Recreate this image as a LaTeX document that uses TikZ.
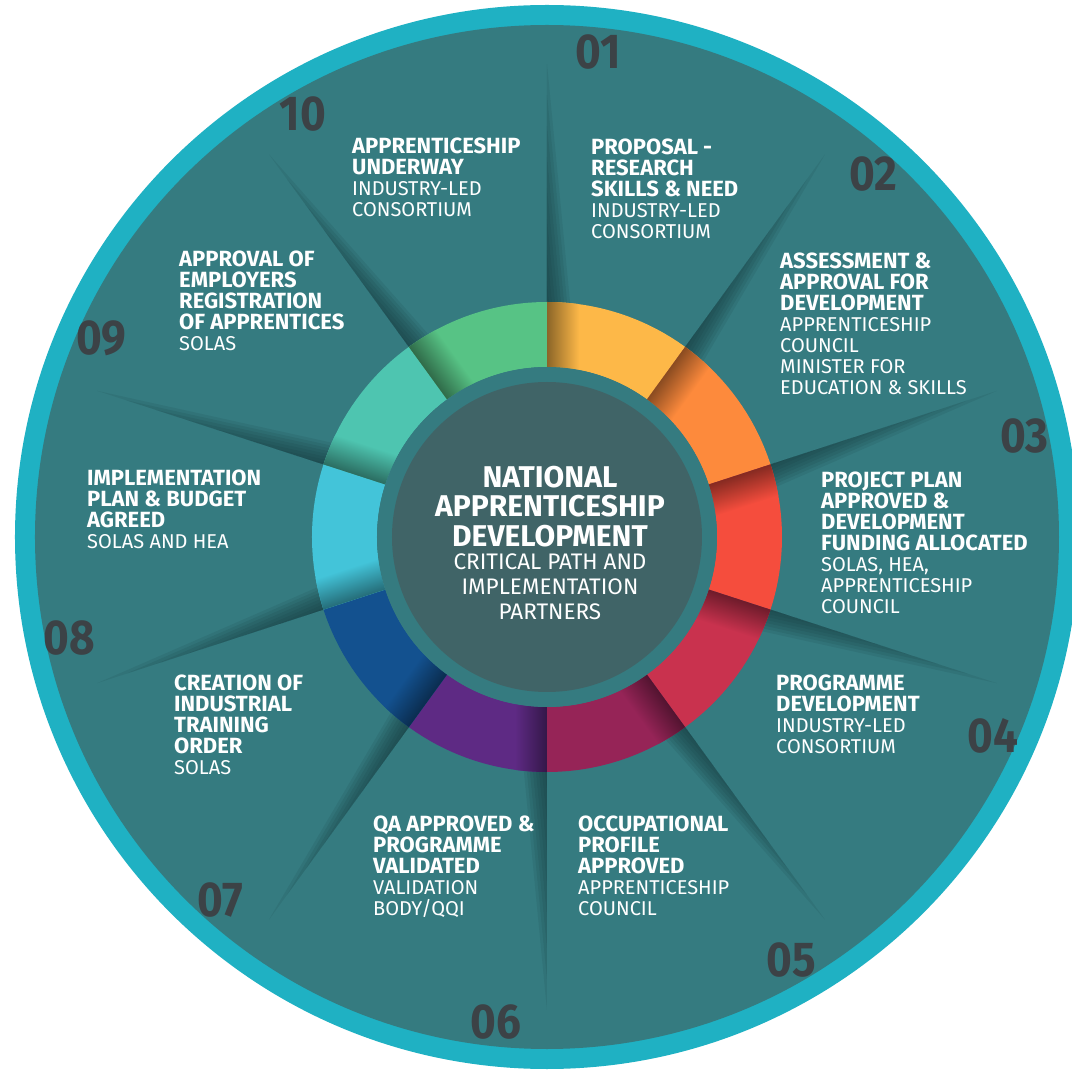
\documentclass[tikz,border=0pt]{standalone}
\usepackage{fontspec}
\setmainfont{Fira Sans}
\usepackage{graphicx}
\usepackage{tikz}
\usetikzlibrary{positioning}
\definecolor{rimcyan}{RGB}{31,177,195}
\definecolor{wheelteal}{RGB}{53,123,128}
\definecolor{hubslate}{RGB}{64,100,103}
\definecolor{numgrey}{RGB}{60,66,70}
\definecolor{shadowteal}{RGB}{20,52,56}
\definecolor{segyellow}{RGB}{253,184,72}
\definecolor{segorange}{RGB}{253,138,60}
\definecolor{segred}{RGB}{245,77,61}
\definecolor{segcrimson}{RGB}{201,50,78}
\definecolor{segwine}{RGB}{150,36,87}
\definecolor{segpurple}{RGB}{94,42,132}
\definecolor{segnavy}{RGB}{19,81,143}
\definecolor{segsky}{RGB}{67,196,217}
\definecolor{segturq}{RGB}{78,197,176}
\definecolor{seggreen}{RGB}{87,195,133}
\newcommand{\stagehead}[1]{{\fontsize{22}{21}\selectfont\bfseries #1}}

\tikzset{
  stagetext/.style={anchor=north west,align=left,inner sep=0pt,text=white,
    font=\fontsize{20}{21}\selectfont},
  stagenum/.style={inner sep=0pt,text=numgrey,font=\fontsize{49}{49}\selectfont\bfseries},
}

\begin{document}
\begin{tikzpicture}[x=1pt,y=1pt]
        \useasboundingbox (-547,-534) rectangle (525,537);
        \fill[white] (-547,-534) rectangle (525,537);
        % Rim and wheel
        \fill[rimcyan] (0,0) circle[radius=532];
        \fill[wheelteal] (0,0) circle[radius=512];
        % Fold shadows along the spokes
        \foreach \k in {0,...,9}{
          \begin{scope}[rotate=90-36*\k]
            \foreach \s in {1,...,8}{
              \fill[shadowteal,opacity=0.11] (225,0) -- ({225+31*\s},0) -- (225,{-3*\s}) -- cycle;
            }
          \end{scope}
        }
        % Coloured ring
        \foreach \k/\col in {0/segyellow,1/segorange,2/segred,3/segcrimson,4/segwine,
                             5/segpurple,6/segnavy,7/segsky,8/segturq,9/seggreen}{
          \pgfmathsetmacro{\ang}{90-36*\k}
          \begin{scope}[transform canvas={rotate=\ang}]
            \fill[\col] (0:170) -- (0:235) arc[start angle=0,end angle=-36,radius=235]
              -- (-36:170) arc[start angle=-36,end angle=0,radius=170] -- cycle;
            \clip (0:170) -- (0:235) arc[start angle=0,end angle=-36,radius=235]
              -- (-36:170) arc[start angle=-36,end angle=0,radius=170] -- cycle;
            \shade[top color=\col!55!black,bottom color=\col] (160,0) rectangle (240,-32);
          \end{scope}
        }
        % Hub
        \fill[wheelteal] (0,0) circle[radius=170];
        \fill[hubslate] (0,0) circle[radius=155];
        \node[inner sep=0pt,anchor=north,align=center,text=white,
          font=\fontsize{30}{29.5}\selectfont\bfseries] (hubhead) at (3,71)
          {NATIONAL\\APPRENTICESHIP\\DEVELOPMENT};
        \node[inner sep=0pt,below=6pt of hubhead,align=center,text=white,
          font=\fontsize{22.5}{25}\selectfont] (hubsub)
          {CRITICAL PATH AND\\IMPLEMENTATION\\PARTNERS};
        % Step numbers
        \foreach \k/\lbl in {1/01,2/02,3/03,4/04,5/05,6/06,7/07,8/08,9/09,10/10}{
          \node[stagenum] (num\lbl) at ({84-36*(\k-1)}:488) {\scalebox{0.9}[1]{\lbl}};
        }
        % Step texts
        \node[stagetext] (txt01) at (44,398)
          {\stagehead{PROPOSAL -}\\\stagehead{RESEARCH}\\\stagehead{SKILLS \& NEED}\\INDUSTRY-LED\\CONSORTIUM};
        \node[stagetext] (txt02) at (233,284)
          {\stagehead{ASSESSMENT \&}\\\stagehead{APPROVAL FOR}\\\stagehead{DEVELOPMENT}\\APPRENTICESHIP\\COUNCIL\\MINISTER FOR\\EDUCATION \& SKILLS};
        \node[stagetext] (txt03) at (274,65)
          {\stagehead{PROJECT PLAN}\\\stagehead{APPROVED \&}\\\stagehead{DEVELOPMENT}\\\stagehead{FUNDING ALLOCATED}\\SOLAS, HEA,\\APPRENTICESHIP\\COUNCIL};
        \node[stagetext] (txt04) at (229,-138)
          {\stagehead{PROGRAMME}\\\stagehead{DEVELOPMENT}\\INDUSTRY-LED\\CONSORTIUM};
        \node[stagetext] (txt05) at (31,-279)
          {\stagehead{OCCUPATIONAL}\\\stagehead{PROFILE}\\\stagehead{APPROVED}\\APPRENTICESHIP\\COUNCIL};
        \node[stagetext] (txt06) at (-174,-279)
          {\stagehead{QA APPROVED \&}\\\stagehead{PROGRAMME}\\\stagehead{VALIDATED}\\VALIDATION\\BODY/QQI};
        \node[stagetext] (txt07) at (-373,-138)
          {\stagehead{CREATION OF}\\\stagehead{INDUSTRIAL}\\\stagehead{TRAINING}\\\stagehead{ORDER}\\SOLAS};
        \node[stagetext] (txt08) at (-460,67)
          {\stagehead{IMPLEMENTATION}\\\stagehead{PLAN \& BUDGET}\\\stagehead{AGREED}\\SOLAS AND HEA};
        \node[stagetext] (txt09) at (-368,286)
          {\stagehead{APPROVAL OF}\\\stagehead{EMPLOYERS}\\\stagehead{REGISTRATION}\\\stagehead{OF APPRENTICES}\\SOLAS};
        \node[stagetext] (txt10) at (-195,399)
          {\stagehead{APPRENTICESHIP}\\\stagehead{UNDERWAY}\\INDUSTRY-LED\\CONSORTIUM};
      \end{tikzpicture}
\end{document}
